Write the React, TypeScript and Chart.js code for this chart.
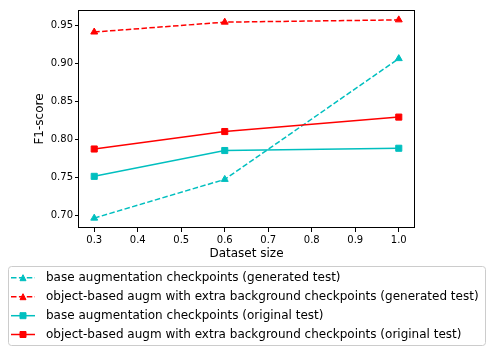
import React, { useEffect, useRef } from "react";
import { Chart, registerables } from "chart.js";

Chart.register(...registerables);

const datasetSizes = [0.3, 0.6, 1.0];
const baseGenerated = [0.696, 0.747, 0.906];
const objGenerated = [0.941, 0.954, 0.957];
const baseOriginal = [0.751, 0.785, 0.788];
const objOriginal = [0.787, 0.81, 0.829];

const seriesLabels = [
  "base augmentation checkpoints (generated test)",
  "object-based augm with extra background checkpoints (generated test)",
  "base augmentation checkpoints (original test)",
  "object-based augm with extra background checkpoints (original test)",
];

const xTicks = [0.3, 0.4, 0.5, 0.6, 0.7, 0.8, 0.9, 1.0];
const yTicks = [0.7, 0.75, 0.8, 0.85, 0.9, 0.95];

const xTitle = "Dataset size";
const yTitle = "F1-score";

const CYAN = "#00bfbf";
const RED = "#ff0000";
const FONT = "'DejaVu Sans', sans-serif";
const DASH = [5.5, 2.4];

function drawMarker(ctx: CanvasRenderingContext2D, style: string, x: number, y: number, color: string) {
  ctx.save();
  ctx.fillStyle = color;
  ctx.strokeStyle = color;
  ctx.lineWidth = 1;
  ctx.setLineDash([]);
  ctx.beginPath();
  if (style === "triangle") {
    ctx.moveTo(x, y - 3);
    ctx.lineTo(x - 3, y + 3);
    ctx.lineTo(x + 3, y + 3);
    ctx.closePath();
  } else {
    ctx.rect(x - 3, y - 3, 6, 6);
  }
  ctx.fill();
  ctx.stroke();
  ctx.restore();
}

const decorPlugin = {
  id: "decor",
  afterDatasetsDraw(chart: any) {
    const { ctx, chartArea } = chart;
    ctx.save();
    ctx.strokeStyle = "#000";
    ctx.lineWidth = 1;
    ctx.setLineDash([]);
    ctx.strokeRect(
      Math.round(chartArea.left) - 0.5,
      Math.round(chartArea.top) + 0.5,
      Math.round(chartArea.right - chartArea.left) + 1,
      Math.round(chartArea.bottom - chartArea.top) - 1
    );
    ctx.restore();
  },
  afterDraw(chart: any) {
    const { ctx, chartArea } = chart;
    ctx.save();
    // axis titles
    ctx.fillStyle = "#000";
    ctx.font = `12px ${FONT}`;
    ctx.textAlign = "center";
    ctx.textBaseline = "middle";
    ctx.fillText(xTitle, (chartArea.left + chartArea.right) / 2, 254);
    ctx.save();
    ctx.translate(40, (chartArea.top + chartArea.bottom) / 2);
    ctx.rotate(-Math.PI / 2);
    ctx.fillText(yTitle, 0, 0);
    ctx.restore();

    // legend box
    const bx = 8.5, by = 266.5, bw = 477, bh = 79, r = 3;
    ctx.beginPath();
    ctx.moveTo(bx + r, by);
    ctx.lineTo(bx + bw - r, by);
    ctx.arcTo(bx + bw, by, bx + bw, by + r, r);
    ctx.lineTo(bx + bw, by + bh - r);
    ctx.arcTo(bx + bw, by + bh, bx + bw - r, by + bh, r);
    ctx.lineTo(bx + r, by + bh);
    ctx.arcTo(bx, by + bh, bx, by + bh - r, r);
    ctx.lineTo(bx, by + r);
    ctx.arcTo(bx, by, bx + r, by, r);
    ctx.closePath();
    ctx.fillStyle = "rgba(255,255,255,0.8)";
    ctx.fill();
    ctx.strokeStyle = "#cccccc";
    ctx.lineWidth = 1;
    ctx.stroke();

    const rows = [277.7, 296.7, 315.7, 334.5];
    chart.data.datasets.forEach((ds: any, i: number) => {
      const y = rows[i];
      ctx.save();
      ctx.strokeStyle = ds.borderColor;
      ctx.lineWidth = 1.5;
      ctx.setLineDash(ds.borderDash || []);
      ctx.beginPath();
      ctx.moveTo(11, y);
      ctx.lineTo(35, y);
      ctx.stroke();
      ctx.restore();
      drawMarker(ctx, ds.pointStyle, 23, y, ds.borderColor);
      ctx.fillStyle = "#000";
      ctx.font = `12px ${FONT}`;
      ctx.textAlign = "left";
      ctx.textBaseline = "middle";
      ctx.fillText(ds.label, 46, y);
    });
    ctx.restore();
  },
};

export default function App() {
  const canvasRef = useRef<HTMLCanvasElement | null>(null);

  useEffect(() => {
    const canvas = canvasRef.current;
    if (!canvas) return;
    const toPts = (ys: number[]) => datasetSizes.map((x, i) => ({ x, y: ys[i] }));
    const mk = (label: string, ys: number[], color: string, dashed: boolean, style: string, idx: number) => ({
      label,
      data: toPts(ys),
      borderColor: color,
      backgroundColor: color,
      borderWidth: 1.5,
      borderDash: dashed ? DASH : [],
      pointStyle: style,
      pointRadius: style === "triangle" ? 4 : 4.3,
      pointBorderWidth: 1,
      pointBackgroundColor: color,
      pointBorderColor: color,
      tension: 0,
      order: 3 - idx,
    });
    const chart = new Chart(canvas, {
      type: "line",
      data: {
        datasets: [
          mk(seriesLabels[0], baseGenerated, CYAN, true, "triangle", 0),
          mk(seriesLabels[1], objGenerated, RED, true, "triangle", 1),
          mk(seriesLabels[2], baseOriginal, CYAN, false, "rect", 2),
          mk(seriesLabels[3], objOriginal, RED, false, "rect", 3),
        ] as any,
      },
      options: {
        animation: false,
        responsive: false,
        devicePixelRatio: 1,
        layout: { padding: { left: 0, top: 10, right: 78, bottom: 0 } },
        plugins: { legend: { display: false }, tooltip: { enabled: false } },
        scales: {
          x: {
            type: "linear",
            min: 0.265,
            max: 1.035,
            afterBuildTicks: (s: any) => {
              s.ticks = xTicks.map((v) => ({ value: v }));
            },
            afterFit: (s: any) => {
              s.height = 125;
            },
            grid: { drawOnChartArea: false, drawTicks: true, tickLength: 4, color: "#000", lineWidth: 1 },
            border: { display: false },
            ticks: {
              color: "#000",
              font: { family: FONT, size: 10 },
              padding: 2,
              maxRotation: 0,
              autoSkip: false,
              callback: (v: any) => Number(v).toFixed(1),
            },
          },
          y: {
            type: "linear",
            min: 0.683,
            max: 0.97,
            afterBuildTicks: (s: any) => {
              s.ticks = yTicks.map((v) => ({ value: v }));
            },
            afterFit: (s: any) => {
              s.width = 79;
            },
            grid: { drawOnChartArea: false, drawTicks: true, tickLength: 4, color: "#000", lineWidth: 1 },
            border: { display: false },
            ticks: {
              color: "#000",
              font: { family: FONT, size: 10 },
              padding: 2,
              autoSkip: false,
              callback: (v: any) => Number(v).toFixed(2),
            },
          },
        },
      } as any,
      plugins: [decorPlugin],
    });
    return () => chart.destroy();
  }, []);

  return (
    <div style={{ position: "fixed", left: 0, top: 0, width: 492, height: 353, background: "#fff" }}>
      <canvas ref={canvasRef} width={492} height={353} style={{ display: "block" }} />
    </div>
  );
}
